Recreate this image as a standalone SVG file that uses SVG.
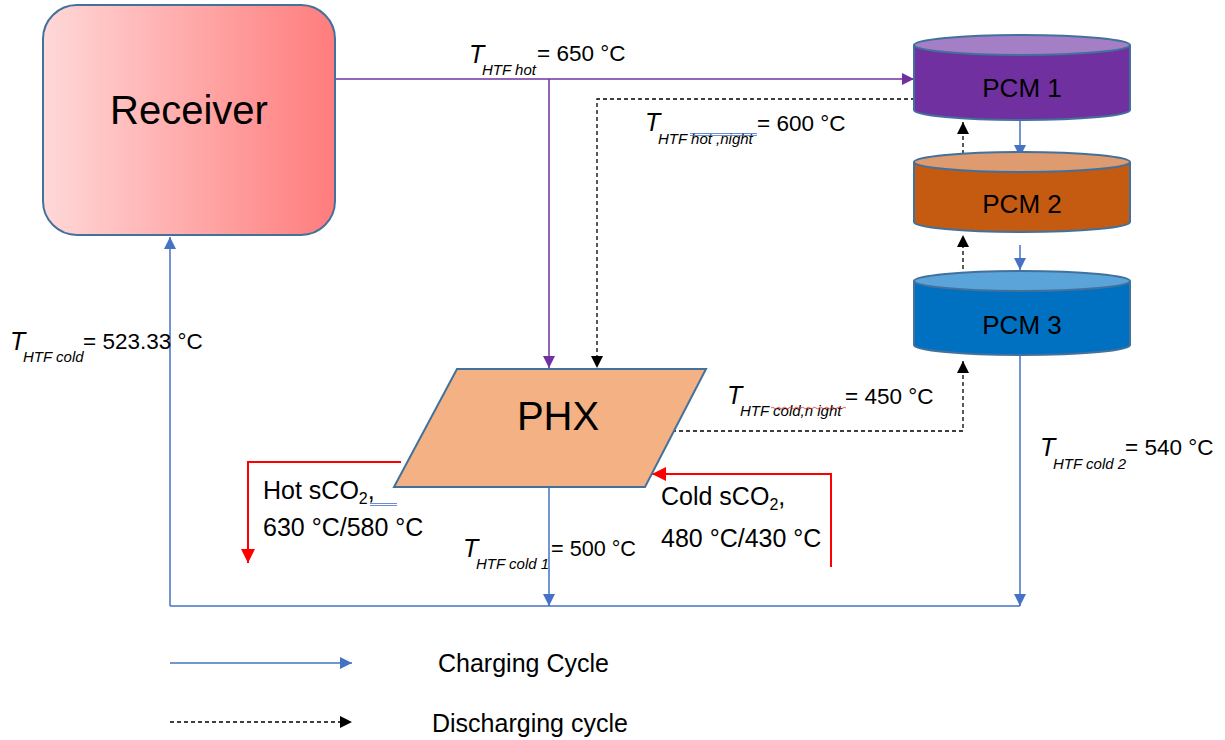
<svg xmlns="http://www.w3.org/2000/svg" width="1225" height="740" viewBox="0 0 1225 740">
  <style>
    text { font-family: "Liberation Sans", "Open Sans", sans-serif; fill: #000; }
    .lbl { font-size: 22.5px; }
    .big { font-size: 25px; }
    .t { font-size: 25px; font-style: italic; }
    .sub { font-size: 15px; font-style: italic; }
    .node-title { font-size: 40px; text-anchor: middle; }
    .pcm-title { font-size: 26px; text-anchor: middle; }
    .outline { stroke: #41719C; stroke-width: 2; }
    .charge { stroke: #4472C4; stroke-width: 1.5; fill: none; }
    .hot { stroke: #7030A0; stroke-width: 1.5; fill: none; }
    .night { stroke: #000; stroke-width: 1.3; fill: none; stroke-dasharray: 4 3; }
    .sco2 { stroke: #FF0000; stroke-width: 2; fill: none; }
  </style>
  <defs>
    <linearGradient id="recvGrad" x1="0" y1="0" x2="1" y2="0">
      <stop offset="0" stop-color="#FFD8D8"/>
      <stop offset="1" stop-color="#FF7C7C"/>
    </linearGradient>
    <marker id="arrBlue" viewBox="0 0 10 10" refX="10" refY="5" markerWidth="14" markerHeight="12" markerUnits="userSpaceOnUse" orient="auto">
      <path d="M0,0 L10,5 L0,10 z" fill="#4472C4"/>
    </marker>
    <marker id="arrPurple" viewBox="0 0 10 10" refX="10" refY="5" markerWidth="14" markerHeight="12" markerUnits="userSpaceOnUse" orient="auto">
      <path d="M0,0 L10,5 L0,10 z" fill="#7030A0"/>
    </marker>
    <marker id="arrBlack" viewBox="0 0 10 10" refX="10" refY="5" markerWidth="13" markerHeight="12" markerUnits="userSpaceOnUse" orient="auto">
      <path d="M0,0 L10,5 L0,10 z" fill="#000"/>
    </marker>
    <marker id="arrRed" viewBox="0 0 10 10" refX="10" refY="5" markerWidth="16" markerHeight="14" markerUnits="userSpaceOnUse" orient="auto">
      <path d="M0,0 L10,5 L0,10 z" fill="#FF0000"/>
    </marker>
  </defs>

  <!-- connectors -->
  <g id="connectors">
    <!-- hot HTF from receiver -->
    <path class="hot" d="M335,79 H914" marker-end="url(#arrPurple)"/>
    <path class="hot" d="M549,79 V368" marker-end="url(#arrPurple)"/>
    <!-- night discharge from PCM 1 to PHX -->
    <path class="night" d="M915,99 H597 V368" marker-end="url(#arrBlack)"/>
    <!-- charging flow through the PCM stack -->
    <path class="charge" d="M1020,120 V157" marker-end="url(#arrBlue)"/>
    <path class="charge" d="M1020,245 V270" marker-end="url(#arrBlue)"/>
    <path class="charge" d="M1020,355 V606" marker-end="url(#arrBlue)"/>
    <!-- discharge upward through the PCM stack -->
    <path class="night" d="M963,168 V122" marker-end="url(#arrBlack)"/>
    <path class="night" d="M963,283 V235" marker-end="url(#arrBlack)"/>
    <path class="night" d="M672,431 H963 V361" marker-end="url(#arrBlack)"/>
    <!-- cold HTF return loop -->
    <path class="charge" d="M549,487 V606" marker-end="url(#arrBlue)"/>
    <path class="charge" d="M170,606 H1020"/>
    <path class="charge" d="M170,606 V237" marker-end="url(#arrBlue)"/>
    <!-- sCO2 streams -->
    <path class="sco2" d="M401,462 H248 V563" marker-end="url(#arrRed)"/>
    <path class="sco2" d="M831,567 V474 H652" marker-end="url(#arrRed)"/>
  </g>

  <!-- nodes -->
  <g id="receiver">
    <rect x="43" y="5" width="292" height="230" rx="34" ry="34" fill="url(#recvGrad)" class="outline"/>
    <text class="node-title" x="189" y="124">Receiver</text>
  </g>

  <g id="phx">
    <polygon points="457,369 706,369 645,487 394,487" fill="#F4B183" class="outline"/>
    <text class="node-title" x="558" y="430">PHX</text>
  </g>

  <g id="pcm1">
    <path d="M914,45 V110 A108,10 0 0 0 1130,110 V45" fill="#7030A0" class="outline"/>
    <ellipse cx="1022" cy="45" rx="108" ry="10" fill="#A57FC6" class="outline"/>
    <text class="pcm-title" x="1022" y="97">PCM 1</text>
  </g>

  <g id="pcm2">
    <path d="M914,162 V222 A108,10 0 0 0 1130,222 V162" fill="#C55A11" class="outline"/>
    <ellipse cx="1022" cy="162" rx="108" ry="10" fill="#DE9B6F" class="outline"/>
    <text class="pcm-title" x="1022" y="213">PCM 2</text>
  </g>

  <g id="pcm3">
    <path d="M914,281 V345 A108,10 0 0 0 1130,345 V281" fill="#0070C0" class="outline"/>
    <ellipse cx="1022" cy="281" rx="108" ry="10" fill="#5BA4DA" class="outline"/>
    <text class="pcm-title" x="1022" y="334">PCM 3</text>
  </g>

  <!-- temperature labels -->
  <g id="labels">
    <text class="t" x="469" y="63">T</text>
    <text class="sub" x="482" y="75">HTF hot</text>
    <text class="lbl" x="537" y="61">= 650 °C</text>

    <text class="t" x="645" y="131">T</text>
    <text class="sub" x="658" y="144">HTF hot ,night</text>
    <text class="lbl" x="757" y="131">= 600 °C</text>
    <path d="M690,133.5 H757 M690,135.5 H757" stroke="#4472C4" stroke-width="0.8"/>

    <text class="t" x="727" y="404">T</text>
    <text class="sub" x="740" y="416">HTF cold,n ight</text>
    <path d="M771,408 q1.5,-1.5 3,0 t3,0 t3,0 t3,0 t3,0 t3,0 t3,0 t3,0 t3,0 t3,0 t3,0 t3,0 t3,0 t3,0 t3,0 t3,0 t3,0 t3,0 t3,0 t3,0 t3,0 t3,0 t3,0 t3,0 t3,0" stroke="#E02020" stroke-width="0.8" fill="none"/>
    <text class="lbl" x="845" y="404">= 450 °C</text>

    <text class="t" x="10" y="350">T</text>
    <text class="sub" x="23" y="362">HTF cold</text>
    <text class="lbl" x="83" y="349">= 523.33 °C</text>

    <text class="t" x="1040" y="456">T</text>
    <text class="sub" x="1053" y="469">HTF cold 2</text>
    <text class="lbl" x="1125" y="455">= 540 °C</text>

    <text class="t" x="463" y="557">T</text>
    <text class="sub" x="476" y="569">HTF cold 1</text>
    <text class="lbl" x="551" y="556" textLength="85" lengthAdjust="spacingAndGlyphs">= 500 °C</text>

    <text class="big" x="263" y="499">Hot sCO<tspan font-size="16" dy="5">2</tspan><tspan dy="-5">,</tspan></text>
    <path d="M370,503.5 H397 M370,505.5 H397" stroke="#4472C4" stroke-width="0.8"/>
    <text class="big" x="263" y="536">630 °C/580 °C</text>

    <text class="big" x="661" y="505">Cold sCO<tspan font-size="16" dy="5">2</tspan><tspan dy="-5">,</tspan></text>
    <text class="big" x="661" y="547">480 °C/430 °C</text>
  </g>

  <!-- legend -->
  <g id="legend">
    <path class="charge" d="M170,663 H352" marker-end="url(#arrBlue)"/>
    <text class="big" x="438" y="672">Charging Cycle</text>
    <path class="night" d="M170,722 H352" marker-end="url(#arrBlack)"/>
    <text class="big" x="432" y="732">Discharging cycle</text>
  </g>
</svg>
